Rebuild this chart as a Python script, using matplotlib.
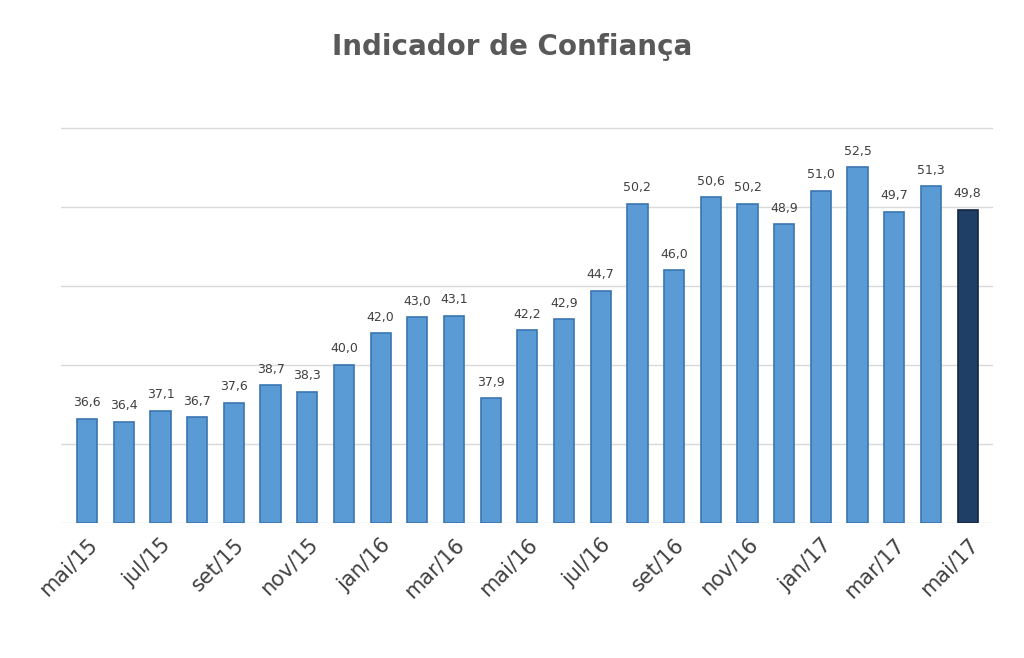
import matplotlib.pyplot as plt
import numpy as np

# dados
meses = ['mai/15', 'jun/15', 'jul/15', 'ago/15', 'set/15', 'out/15', 'nov/15', 'dez/15',
         'jan/16', 'fev/16', 'mar/16', 'abr/16', 'mai/16', 'jun/16', 'jul/16', 'ago/16',
         'set/16', 'out/16', 'nov/16', 'dez/16', 'jan/17', 'fev/17', 'mar/17', 'abr/17', 'mai/17']
valores = [36.6, 36.4, 37.1, 36.7, 37.6, 38.7, 38.3, 40.0, 42.0, 43.0, 43.1, 37.9, 42.2,
           42.9, 44.7, 50.2, 46.0, 50.6, 50.2, 48.9, 51.0, 52.5, 49.7, 51.3, 49.8]

fig, ax = plt.subplots(figsize=(10.24, 6.58), dpi=100)
fig.subplots_adjust(left=0.06, right=0.97, top=0.83, bottom=0.205)

x = np.arange(len(valores))
cores = ['#5b9bd5'] * (len(valores) - 1) + ['#1f3f66']
lados = ['#3a75b0'] * (len(valores) - 1) + ['#13283f']
ax.bar(x, np.array(valores) - 30, bottom=30, width=0.55, color=cores,
       edgecolor=lados, linewidth=1.2, zorder=3)

for xi, v in zip(x, valores):
    ax.text(xi, v + 0.6, f'{v:.1f}'.replace('.', ','), ha='center', va='bottom',
            fontsize=9, color='#404040')

ax.set_ylim(30, 56)
ax.set_xlim(-0.7, len(valores) - 0.3)
ax.set_yticks([30, 35, 40, 45, 50, 55])
ax.set_yticklabels([])
ax.tick_params(axis='y', length=0)
ax.grid(axis='y', color='#d9d9d9', linewidth=1, zorder=0)
ax.set_xticks(x[::2])
ax.set_xticklabels(meses[::2], rotation=45, ha='right', rotation_mode='anchor',
                   fontsize=15, color='#404040')
ax.tick_params(axis='x', length=0, pad=8)
for s in ax.spines.values():
    s.set_visible(False)

fig.suptitle('Indicador de Confiança', fontsize=20, fontweight='bold',
             color='#595959', y=0.95)
fig.savefig('out.png')
